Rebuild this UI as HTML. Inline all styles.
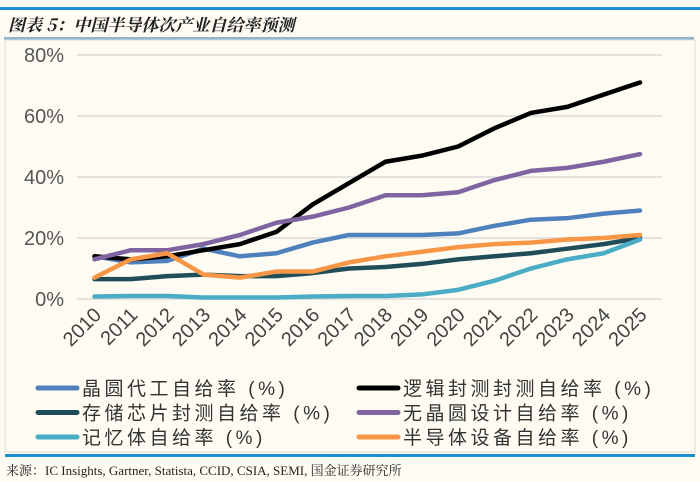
<!DOCTYPE html>
<html><head><meta charset="utf-8"><style>
body{margin:0;background:#fff;}
#wrap{position:relative;width:700px;height:482px;background:#fefcf2;font-family:"Liberation Sans","Noto Sans CJK SC",sans-serif;overflow:hidden}
</style></head><body>
<div id="wrap">
<div style="position:absolute;left:0;top:7px;width:700px;height:3px;background:#1a8fd0"></div>
<div style="position:absolute;left:8px;top:11px;font-size:17px;font-style:italic;font-weight:bold;color:#222;font-family:'Noto Serif CJK SC','Noto Sans CJK SC',serif">图表 5：中国半导体次产业自给率预测</div>
<div style="position:absolute;left:4px;top:37px;width:690px;height:3px;background:#8fb5cf"></div>
<svg id="chart" width="700" height="482" style="position:absolute;left:0;top:0"></svg>
<div style="position:absolute;left:5px;top:454px;width:690px;height:3px;background:#1a8fd0"></div>
<div style="position:absolute;left:6px;top:460px;font-size:13px;color:#222;font-family:'Liberation Serif','Noto Serif CJK SC',serif">来源：IC Insights, Gartner, Statista, CCID, CSIA, SEMI, 国金证券研究所</div>
</div>
<script>
const years=["2010","2011","2012","2013","2014","2015","2016","2017","2018","2019","2020","2021","2022","2023","2024","2025"];
const yTicks=[0,20,40,60,80];
const foundry=[14,12,12.5,16.5,14,15,18.5,21,21,21,21.5,24,26,26.5,28,29];
const logicPack=[14,13,14,16,18,22,31,38,45,47,50,56,61,63,67,71];
const memPack=[6.5,6.5,7.5,8,7.5,7.5,8.5,10,10.5,11.5,13,14,15,16.5,18,20];
const fabless=[13,16,16,18,21,25,27,30,34,34,35,39,42,43,45,47.5];
const memory=[0.8,1,1,0.5,0.5,0.5,0.8,1,1,1.5,3,6,10,13,15,19.5];
const equip=[7,13,15,8,7,9,9,12,14,15.5,17,18,18.5,19.5,20,21];
const names=["晶圆代工自给率 (%)","逻辑封测封测自给率 (%)","存储芯片封测自给率 (%)","无晶圆设计自给率 (%)","记忆体自给率 (%)","半导体设备自给率 (%)"];
const series=[foundry,logicPack,memPack,fabless,memory,equip];
const colors=["#4f81bd","#000000","#1f4e5a","#8064a2","#4bacc6","#f79646"];
const ids=["foundry","logic-packaging","memory-packaging","fabless-design","memory","equipment"];
const svg=document.getElementById('chart');const NS='http://www.w3.org/2000/svg';
const x0=94.5,x1=640,y0=299,y80=55;
const X=i=>x0+(x1-x0)*i/(years.length-1);
const Y=v=>y0-(y0-y80)*v/80;
function mk(t,a){const e=document.createElementNS(NS,t);for(const k in a)e.setAttribute(k,a[k]);svg.appendChild(e);return e;}
const frame=mk('rect',{x:5,y:40,width:690,height:412,fill:'none',stroke:'#dcdcd0'});

yTicks.forEach(t=>{const g=mk('line',{x1:77,x2:662,y1:Y(t),y2:Y(t),stroke:'#d9d9d9','stroke-width':1.5});

const l=mk('text',{x:64,y:Y(t)+7,'text-anchor':'end','font-size':20,fill:'#555'});l.textContent=t+'%';
});
years.forEach((yr,i)=>{const l=mk('text',{x:0,y:0,'text-anchor':'end','font-size':20,fill:'#444',transform:`translate(${X(i)+8},${316}) rotate(-45)`});l.textContent=yr;
});
series.forEach((s,k)=>{const p=mk('polyline',{points:s.map((v,i)=>X(i)+','+Y(v)).join(' '),fill:'none',stroke:colors[k],'stroke-width':4.5,'stroke-linejoin':'round','stroke-linecap':'round'});
});
names.forEach((n,k)=>{const col=k%2,row=Math.floor(k/2);const lx=col?359:38,ty=388+row*24.5;
const sw=mk('line',{x1:lx,x2:lx+39,y1:ty,y2:ty,stroke:colors[k],'stroke-width':5,'stroke-linecap':'round'});

const t=mk('text',{x:lx+44,y:ty+7,'font-size':19,'letter-spacing':3.5,fill:'#333'});t.textContent=n;
});
</script>
</body></html>
